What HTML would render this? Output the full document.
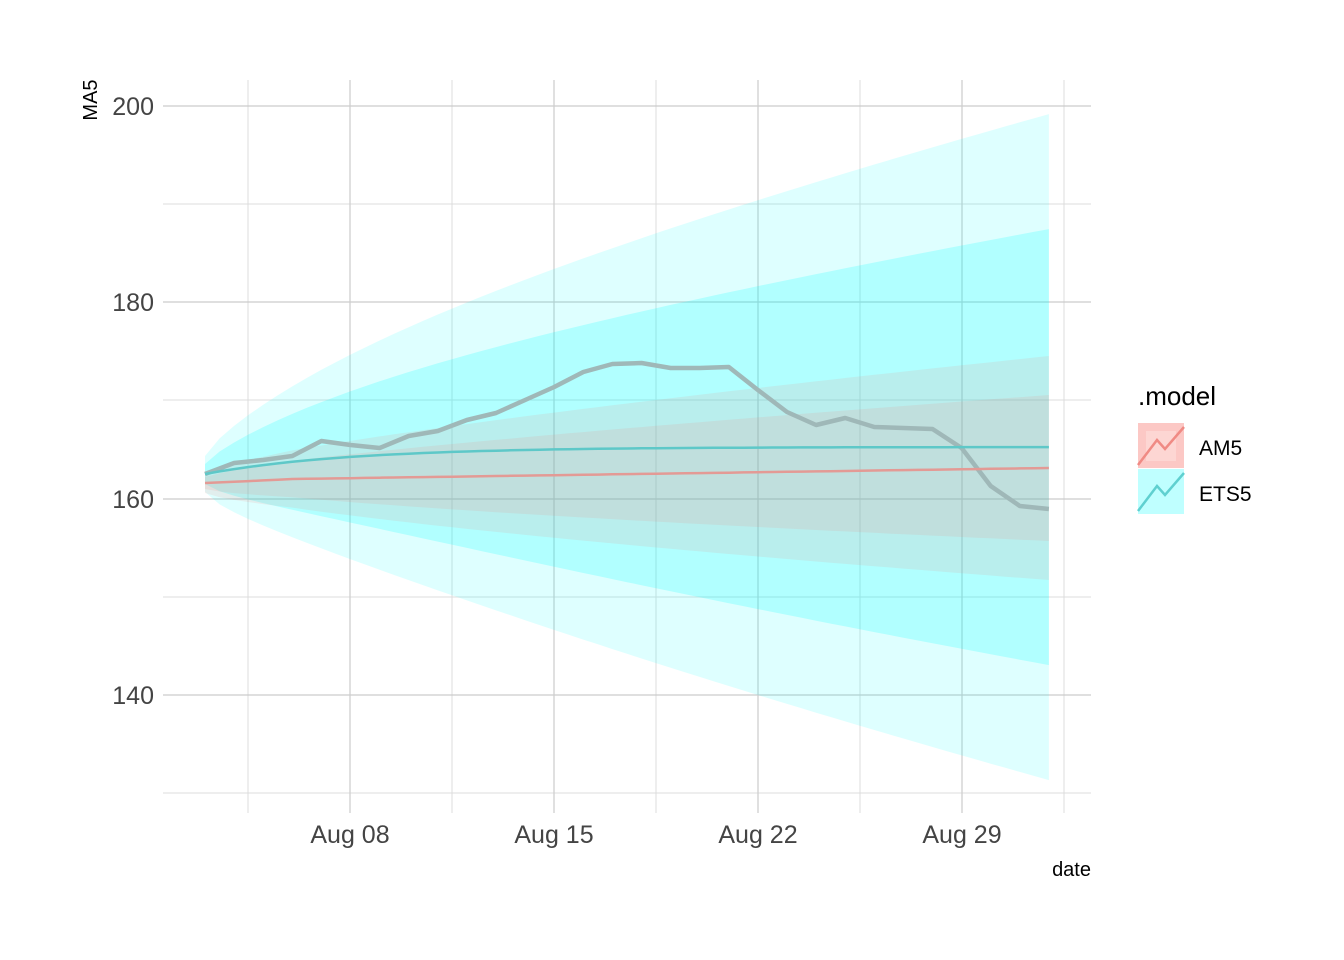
<!DOCTYPE html>
<html><head><meta charset="utf-8"><style>
html,body{margin:0;padding:0;background:#fff;}
svg{display:block;font-family:"Liberation Sans",sans-serif;}
</style></head><body>
<svg id="s" width="1344" height="960" xmlns="http://www.w3.org/2000/svg">
<g stroke="#dcdcdc" stroke-width="1" fill="none">
<line x1="163" x2="1091" y1="204" y2="204"/><line x1="163" x2="1091" y1="400" y2="400"/>
<line x1="163" x2="1091" y1="597" y2="597"/><line x1="163" x2="1091" y1="793" y2="793"/>
<line x1="248" x2="248" y1="80" y2="813"/><line x1="452" x2="452" y1="80" y2="813"/>
<line x1="656" x2="656" y1="80" y2="813"/><line x1="860" x2="860" y1="80" y2="813"/>
<line x1="1064" x2="1064" y1="80" y2="813"/>
</g>
<g stroke="#cccccc" stroke-width="1.2" fill="none">
<line x1="163" x2="1091" y1="106" y2="106"/><line x1="163" x2="1091" y1="302" y2="302"/>
<line x1="163" x2="1091" y1="499" y2="499"/><line x1="163" x2="1091" y1="695" y2="695"/>
<line x1="350" x2="350" y1="80" y2="813"/><line x1="554" x2="554" y1="80" y2="813"/>
<line x1="758" x2="758" y1="80" y2="813"/><line x1="962" x2="962" y1="80" y2="813"/>
</g>
<g id="bands"></g>
<g id="lines"></g>
<g fill="#444" font-size="25" text-anchor="end">
<text x="154" y="115">200</text><text x="154" y="311">180</text>
<text x="154" y="508">160</text><text x="154" y="704">140</text>
</g>
<g fill="#444" font-size="25" text-anchor="middle">
<text x="350" y="843">Aug 08</text><text x="554" y="843">Aug 15</text>
<text x="758" y="843">Aug 22</text><text x="962" y="843">Aug 29</text>
</g>
<text x="1091" y="876" font-size="20" text-anchor="end" fill="#000">date</text>
<text transform="translate(97,100) rotate(-90)" font-size="20" text-anchor="middle" fill="#000">MA5</text>
<text x="1138" y="405" font-size="26" fill="#000">.model</text>
<rect x="1138" y="423" width="46" height="45" fill="#f8766d" opacity="0.4"/>
<rect x="1146" y="431" width="30" height="30" fill="#fff" opacity="0.25"/>
<polyline points="1138,465 1157,440 1165,449 1184,427" stroke="#f08a84" stroke-width="2.5" fill="none"/>
<rect x="1138" y="469" width="46" height="45" fill="#00ffff" opacity="0.25"/>
<polyline points="1138,511 1157,486 1165,495 1184,473" stroke="#5fd0d0" stroke-width="2.5" fill="none"/>
<text x="1199" y="455" font-size="21" fill="#000">AM5</text>
<text x="1199" y="501" font-size="21" fill="#000">ETS5</text>
</svg>
<script>
(function(){
var NS="http://www.w3.org/2000/svg";
function X(h){return 205+h*29.1;}
function em(h){return 447+27*Math.exp(-h/5);}
function am(h){return h<3?483-1.3*h:479-11*(h-3)/26;}
function band(m,a,b,fill,op){
 var up=[],lo=[];
 for(var h=0;h<=29;h+=0.5){var w=a+(b-a)*Math.pow(h/29,0.75);up.push(X(h).toFixed(1)+","+(m(h)-w).toFixed(1));lo.unshift(X(h).toFixed(1)+","+(m(h)+w).toFixed(1));}
 var p=document.createElementNS(NS,"polygon");p.setAttribute("points",up.concat(lo).join(" "));p.setAttribute("fill",fill);p.setAttribute("fill-opacity",op);
 document.getElementById("bands").appendChild(p);
}
band(em,18,333,"#00ffff",0.13);
band(em,10,218,"#00ffff",0.2);
band(am,10,112,"#f8766d",0.12);
band(am,6,73,"#f8766d",0.12);
function line(m,col,w){var pts=[];for(var h=0;h<=29;h+=0.5)pts.push(X(h).toFixed(1)+","+m(h).toFixed(1));
 var p=document.createElementNS(NS,"polyline");p.setAttribute("points",pts.join(" "));p.setAttribute("stroke",col);p.setAttribute("stroke-width",w);p.setAttribute("fill","none");document.getElementById("lines").appendChild(p);}
var ys=[474,463,460,456,441,445,448,436,431,420,413,400,387,372,364,363,368,368,367,390,412,425,418,427,428,429,448,486,506,509];
var pts=ys.map(function(y,i){return X(i).toFixed(1)+","+y;});
var p=document.createElementNS(NS,"polyline");p.setAttribute("points",pts.join(" "));p.setAttribute("stroke","#9fb8b8");p.setAttribute("stroke-width",4.5);p.setAttribute("fill","none");p.setAttribute("stroke-linejoin","round");document.getElementById("lines").appendChild(p);
line(em,"#5ec8c8",2.5);
line(am,"#e39a95",2.5);
})();
</script>
</body></html>
